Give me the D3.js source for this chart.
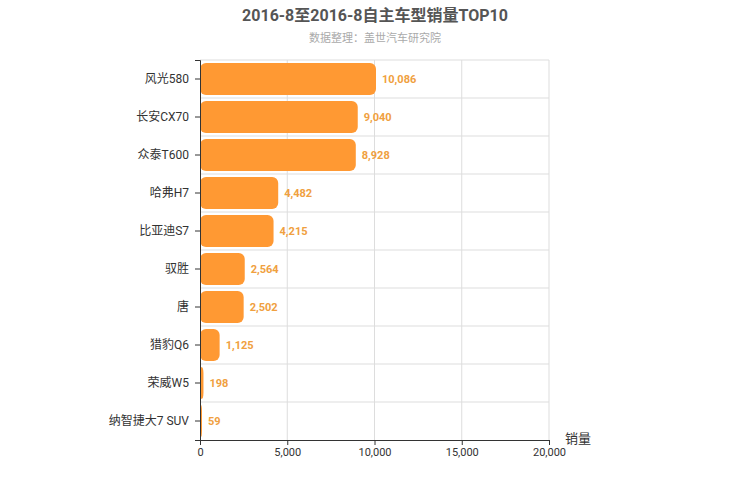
<!DOCTYPE html>
<html>
<head>
<meta charset="utf-8">
<script src="https://cdn.jsdelivr.net/npm/d3@7"></script>
<style>
body { margin: 0; background: #fff; }
text { font-family: Roboto, "Noto Sans CJK SC", sans-serif; }
</style>
</head>
<body>
<div id="chart"></div>
<script>
// chart data
const models = ["风光580", "长安CX70", "众泰T600", "哈弗H7", "比亚迪S7", "驭胜", "唐", "猎豹Q6", "荣威W5", "纳智捷大7 SUV"];
const sales = [10086, 9040, 8928, 4482, 4215, 2564, 2502, 1125, 198, 59];
const xTicks = [0, 5000, 10000, 15000, 20000];

const width = 750, height = 500;
const margin = {top: 60, right: 201, bottom: 60, left: 200};
const innerW = width - margin.left - margin.right;
const innerH = height - margin.top - margin.bottom;

const svg = d3.select("#chart").append("svg")
    .attr("width", width)
    .attr("height", height);

svg.append("text")
    .attr("x", 375).attr("y", 21)
    .attr("text-anchor", "middle")
    .attr("font-size", 16).attr("font-weight", "bold")
    .attr("fill", "#555")
    .text("2016-8至2016-8自主车型销量TOP10");

svg.append("text")
    .attr("x", 375).attr("y", 42)
    .attr("text-anchor", "middle")
    .attr("font-size", 11)
    .attr("fill", "#aaa")
    .text("数据整理：盖世汽车研究院");

const chart = svg.append("g")
    .attr("transform", `translate(${margin.left},${margin.top})`);

const x = d3.scaleLinear().domain([0, 20000]).range([0, innerW]);
const y = d3.scaleBand().domain(models).range([0, innerH]).paddingInner(0.16).paddingOuter(0.08);
const yLines = d3.scaleBand().domain(models).range([0, innerH]);

// grid
chart.selectAll(".vgrid").data(xTicks.slice(1))
    .join("line")
    .attr("x1", d => x(d)).attr("x2", d => x(d))
    .attr("y1", 0).attr("y2", innerH)
    .attr("stroke", "#ddd");

chart.selectAll(".hgrid").data(models)
    .join("line")
    .attr("x1", 0).attr("x2", innerW)
    .attr("y1", d => yLines(d)).attr("y2", d => yLines(d))
    .attr("stroke", "#ddd");

// bars
chart.selectAll(".bar").data(models)
    .join("rect")
    .attr("x", 0)
    .attr("y", d => y(d))
    .attr("width", (d, i) => Math.max(x(sales[i]), 2))
    .attr("height", y.bandwidth())
    .attr("rx", 6)
    .attr("fill", "#ff9933");

chart.selectAll(".val").data(models)
    .join("text")
    .attr("x", (d, i) => Math.max(x(sales[i]), 2) + 6)
    .attr("y", d => y(d) + y.bandwidth() / 2 + 4)
    .attr("font-size", 11).attr("font-weight", "bold")
    .attr("fill", "#f0a040")
    .text((d, i) => d3.format(",")(sales[i]));

// axes
const yAxis = chart.append("g")
    .call(d3.axisLeft(yLines).tickSize(5).tickPadding(6));
yAxis.selectAll("text").attr("font-size", 12).attr("fill", "#333");
yAxis.selectAll("line,path").attr("stroke", "#333");

const xAxis = chart.append("g")
    .attr("transform", `translate(0,${innerH})`)
    .call(d3.axisBottom(x).tickValues(xTicks).tickSize(5).tickFormat(d3.format(",")));
xAxis.selectAll("text").attr("font-size", 11).attr("fill", "#333");
xAxis.selectAll("line,path").attr("stroke", "#333");

svg.append("text")
    .attr("x", 565).attr("y", 443)
    .attr("font-size", 13)
    .attr("fill", "#333")
    .text("销量");
</script>
</body>
</html>
